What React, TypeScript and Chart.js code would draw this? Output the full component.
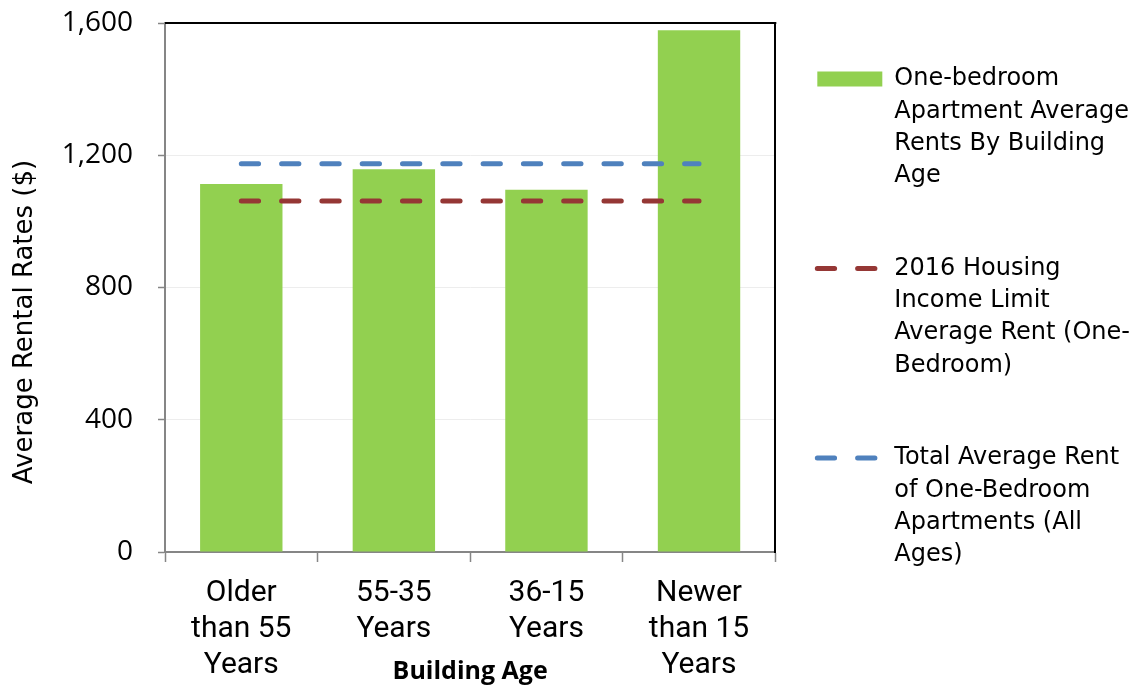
import React, { useEffect, useRef } from "react";
import { Chart, registerables } from "chart.js";

Chart.register(...registerables);

// ---- data ----
const categories: string[][] = [
  ["Older", "than 55", "Years"],
  ["55-35", "Years"],
  ["36-15", "Years"],
  ["Newer", "than 15", "Years"],
];
const barValues: number[] = [1113, 1158, 1096, 1578];
const housingLimitRent: number[] = [1062, 1062, 1062, 1062];
const totalAverageRent: number[] = [1174, 1174, 1174, 1174];

const yMin = 0;
const yMax = 1600;
const yStep = 400;

const barLabel = ["One-bedroom", "Apartment Average", "Rents By Building", "Age"];
const limitLabel = ["2016 Housing", "Income Limit", "Average Rent (One-", "Bedroom)"];
const totalLabel = ["Total Average Rent", "of One-Bedroom", "Apartments (All", "Ages)"];

const xTitle = "Building Age";
const yTitle = "Average Rental Rates ($)";

const GREEN = "#92D050";
const RED = "#953735";
const BLUE = "#4F81BD";
const AXIS_GRAY = "#868686";

export default function App() {
  const ref = useRef<HTMLCanvasElement>(null);

  useEffect(() => {
    if (!ref.current) return;

    const decorations = {
      id: "decorations",
      afterDraw(chart: any) {
        const { ctx, chartArea } = chart;
        ctx.save();
        // top frame line
        ctx.strokeStyle = "#000";
        ctx.lineWidth = 2;
        ctx.beginPath();
        ctx.moveTo(chartArea.left, chartArea.top);
        ctx.lineTo(chartArea.right + 1, chartArea.top);
        ctx.stroke();
        // axis titles
        ctx.fillStyle = "#000";
        ctx.textAlign = "center";
        ctx.textBaseline = "middle";
        ctx.font = "bold 25px 'Open Sans'";
        ctx.fillText(xTitle, (chartArea.left + chartArea.right) / 2, 672);
        ctx.translate(25, 322);
        ctx.rotate(-Math.PI / 2);
        ctx.font = "26px 'DejaVu Sans'";
        ctx.fillText(yTitle, 0, 0);
        ctx.restore();
      },
    };

    const chart = new Chart(ref.current, {
      type: "bar",
      data: {
        labels: categories,
        datasets: [
          {
            type: "bar",
            label: barLabel.join(" "),
            data: barValues,
            backgroundColor: GREEN,
            borderWidth: 0,
            barPercentage: 0.54,
            categoryPercentage: 1,
            order: 3,
          },
          {
            type: "line",
            label: limitLabel.join(" "),
            data: housingLimitRent,
            borderColor: RED,
            backgroundColor: RED,
            borderWidth: 5,
            borderDash: [17.3, 23],
            borderCapStyle: "round",
            pointRadius: 0,
            fill: false,
            order: 2,
          },
          {
            type: "line",
            label: totalLabel.join(" "),
            data: totalAverageRent,
            borderColor: BLUE,
            backgroundColor: BLUE,
            borderWidth: 5,
            borderDash: [17.3, 23],
            borderCapStyle: "round",
            pointRadius: 0,
            fill: false,
            order: 1,
          },
        ] as any,
      },
      options: {
        responsive: false,
        animation: false,
        devicePixelRatio: 1,
        layout: { padding: { top: 23, left: 0, right: 0, bottom: 0 } },
        plugins: {
          tooltip: { enabled: false },
          legend: {
            display: true,
            position: "right",
            align: "start",
            maxWidth: 353,
            title: { display: true, text: " ", font: { size: 10 }, padding: { top: 2, bottom: 2 } },
            labels: {
              usePointStyle: true,
              pointStyleWidth: 65,
              boxWidth: 65,
              boxHeight: 24,
              padding: 28,
              color: "#000",
              font: { family: "'DejaVu Sans'", size: 24, lineHeight: 1.346 },
              generateLabels: () => [
                {
                  text: [...barLabel, ""],
                  fillStyle: GREEN,
                  strokeStyle: GREEN,
                  lineWidth: 15,
                  lineCap: "butt",
                  lineDash: [],
                  pointStyle: "line",
                  hidden: false,
                  datasetIndex: 0,
                  fontColor: "#000",
                },
                {
                  text: [...limitLabel, ""],
                  fillStyle: "rgba(0,0,0,0)",
                  strokeStyle: RED,
                  lineWidth: 5,
                  lineCap: "round",
                  lineDash: [17.3, 23],
                  pointStyle: "line",
                  hidden: false,
                  datasetIndex: 1,
                  fontColor: "#000",
                },
                {
                  text: [...totalLabel, ""],
                  fillStyle: "rgba(0,0,0,0)",
                  strokeStyle: BLUE,
                  lineWidth: 5,
                  lineCap: "round",
                  lineDash: [17.3, 23],
                  pointStyle: "line",
                  hidden: false,
                  datasetIndex: 2,
                  fontColor: "#000",
                },
              ] as any,
            },
          },
        },
        scales: {
          x: {
            type: "category",
            position: "bottom",
            offset: true,
            grid: {
              display: true,
              drawOnChartArea: false,
              drawTicks: true,
              tickLength: 10,
              tickColor: AXIS_GRAY,
              tickWidth: 1.5,
              offset: true,
            },
            border: { display: true, color: AXIS_GRAY, width: 2 },
            ticks: {
              color: "#000",
              font: { family: "Roboto", size: 30, lineHeight: 1.2 },
              padding: 13,
              maxRotation: 0,
              autoSkip: false,
            },
            afterFit: (s: any) => {
              s.height = 137;
              s.paddingLeft = 0;
              s.paddingRight = 0;
            },
          },
          y: {
            type: "linear",
            position: "left",
            min: yMin,
            max: yMax,
            grid: {
              display: true,
              color: "#EDEDED",
              lineWidth: 1,
              drawTicks: true,
              tickLength: 7,
              tickColor: AXIS_GRAY,
              tickWidth: 1.5,
            },
            border: { display: true, color: AXIS_GRAY, width: 2 },
            ticks: {
              stepSize: yStep,
              color: "#000",
              padding: 25,
              font: { family: "'Open Sans'", size: 28 },
              callback: (v: any) => Number(v).toLocaleString("en-US"),
            },
            afterFit: (s: any) => {
              s.width = 165;
              s.paddingTop = 0;
              s.paddingBottom = 0;
            },
          },
          yRight: {
            type: "linear",
            position: "right",
            display: true,
            min: 0,
            max: 1,
            grid: { display: false, drawTicks: false },
            ticks: { display: false },
            border: { display: true, color: "#000", width: 2 },
            afterFit: (s: any) => {
              s.width = 14;
              s.paddingTop = 0;
              s.paddingBottom = 0;
            },
          },
        },
      },
      plugins: [decorations],
    } as any);

    return () => chart.destroy();
  }, []);

  return (
    <div style={{ position: "absolute", left: 0, top: 0, width: 1140, height: 689, background: "#fff" }}>
      <canvas ref={ref} width={1140} height={689} style={{ display: "block" }} />
    </div>
  );
}
